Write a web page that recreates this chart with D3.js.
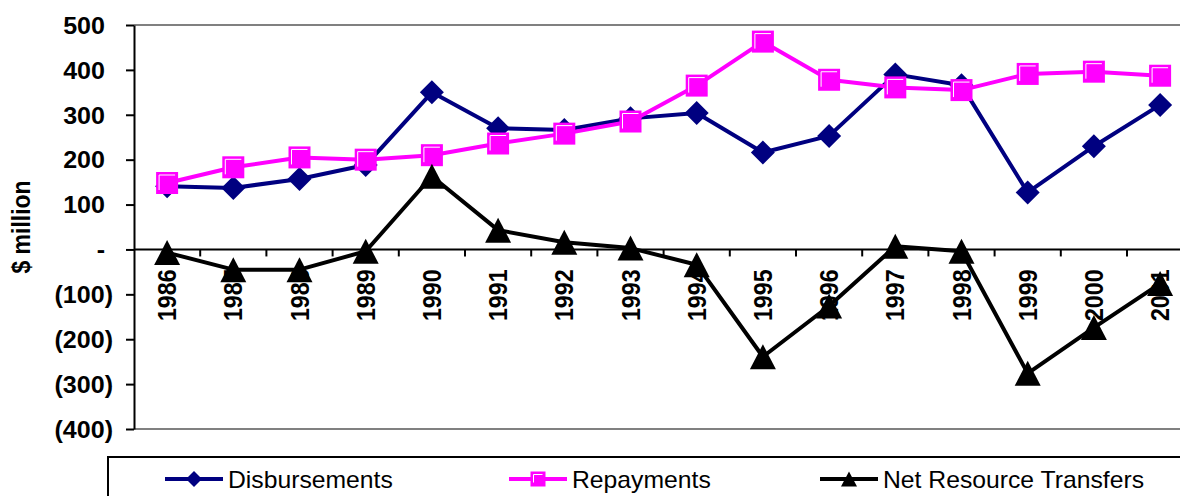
<!DOCTYPE html>
<html>
<head>
<meta charset="utf-8">
<script src="https://cdn.jsdelivr.net/npm/d3@7"></script>
<style>
  html, body { margin: 0; padding: 0; background: #fff; }
  svg { display: block; }
</style>
</head>
<body>
<svg id="chart" width="1180" height="496"></svg>
<script>
const years = ["1986","1987","1988","1989","1990","1991","1992","1993","1994","1995","1996","1997","1998","1999","2000","2001"];
const disbursements = [141,137,157,188,350,270,266,292,304,216,253,390,366,127,230,322];
const repayments    = [148,183,205,200,210,236,258,285,365,463,378,361,355,391,396,387];
const netTransfers  = [-7,-45,-45,-4,163,43,16,3,-34,-239,-126,7,-4,-276,-174,-76];
const yTicks = [500,400,300,200,100,0,-100,-200,-300,-400];
const seriesNames = ["Disbursements","Repayments","Net Resource Transfers"];
const yTitle = "$ million";

(function () {
const FONT = "'Liberation Sans', Arial, sans-serif";
const SX = 1.09;
const FS = 23;

const svg = d3.select("#chart");
const pLeft = 134, pTop = 25, pBottom = 429, step = 66.2;
const x = d3.scaleBand().domain(years).range([pLeft, pLeft + years.length * step]).padding(0);
const y = d3.scaleLinear().domain([-400, 500]).range([pBottom, pTop]);
const pRight = x.range()[1];

const fmt = v => v === 0 ? "-" : (v < 0 ? "(" + d3.format(",")(-v) + ")" : d3.format(",")(v));

// plot border lines (grey top & bottom)
svg.append("line").attr("x1", pLeft).attr("x2", pRight).attr("y1", y(500)).attr("y2", y(500))
  .attr("stroke", "#808080").attr("stroke-width", 2);
svg.append("line").attr("x1", pLeft).attr("x2", pRight).attr("y1", y(-400)).attr("y2", y(-400))
  .attr("stroke", "#808080").attr("stroke-width", 2);

// y axis
const yAxis = svg.append("g").attr("transform", `translate(${pLeft},0)`)
  .call(d3.axisLeft(y).tickValues(yTicks).tickFormat(fmt).tickSize(8).tickSizeOuter(0));
yAxis.select(".domain").attr("stroke", "#000").attr("stroke-width", 2);
yAxis.selectAll(".tick line").attr("stroke", "#000").attr("stroke-width", 2);
yAxis.selectAll(".tick text")
  .attr("x", 0).attr("dy", "0.36em")
  .attr("transform", d => `translate(${d < 0 ? -21 : -29},0) scale(${SX},1)`)
  .attr("font-family", FONT).attr("font-weight", "bold").attr("font-size", FS)
  .attr("fill", "#000").attr("text-anchor", "end");

// x axis at zero
const xAxis = svg.append("g").attr("transform", `translate(0,${y(0)})`)
  .call(d3.axisBottom(x).tickSize(0).tickSizeOuter(0));
xAxis.select(".domain").remove();
svg.append("line").attr("x1", pLeft).attr("x2", pRight).attr("y1", y(0)).attr("y2", y(0))
  .attr("stroke", "#000").attr("stroke-width", 2);
xAxis.selectAll(".tick text")
  .attr("x", 0).attr("y", 0).attr("dy", "0.36em")
  .attr("transform", `translate(0,20) scale(${SX},1.01) rotate(-90)`)
  .attr("text-anchor", "end")
  .attr("font-family", FONT).attr("font-weight", "bold").attr("font-size", FS).attr("fill", "#000");
// boundary ticks
svg.append("g").selectAll("line").data(years).join("line")
  .attr("x1", d => x(d) + x.step()).attr("x2", d => x(d) + x.step())
  .attr("y1", y(0)).attr("y2", y(0) + 7)
  .attr("stroke", "#000").attr("stroke-width", 2);

// y title
svg.append("text")
  .attr("transform", `translate(21,227) scale(${SX},1) rotate(-90)`)
  .attr("text-anchor", "middle").attr("dy", "0.36em")
  .attr("font-family", FONT).attr("font-weight", "bold").attr("font-size", FS)
  .text(yTitle);

// marker shapes
function diamondPath(r) { return `M0,${-r}L${r},0L0,${r}L${-r},0Z`; }
function trianglePath(w, h) { return `M0,${-h/2}L${w/2},${h/2}L${-w/2},${h/2}Z`; }

const cx = i => x(years[i]) + x.bandwidth() / 2;
const line = d3.line().x((d, i) => cx(i)).y(d => y(d));

function drawSquare(g, px, py, s) {
  g.append("rect").attr("x", px - s/2).attr("y", py - s/2).attr("width", s).attr("height", s)
    .attr("fill", "#FF00FF");
  g.append("path").attr("d", `M${px - s/2 + 3},${py + s/2 - 4}V${py - s/2 + 3}H${px + s/2 - 3}`)
    .attr("fill", "none").attr("stroke", "#fff").attr("stroke-width", 1);
}

// Disbursements
const gD = svg.append("g");
gD.append("path").datum(disbursements).attr("d", line)
  .attr("fill", "none").attr("stroke", "#000080").attr("stroke-width", 4).attr("stroke-linejoin", "round");
gD.selectAll("path.m").data(disbursements).join("path").attr("class", "m")
  .attr("d", diamondPath(12)).attr("transform", (d, i) => `translate(${cx(i)},${y(d)})`)
  .attr("fill", "#000080");

// Repayments
const gR = svg.append("g");
gR.append("path").datum(repayments).attr("d", line)
  .attr("fill", "none").attr("stroke", "#FF00FF").attr("stroke-width", 4).attr("stroke-linejoin", "round");
repayments.forEach((d, i) => drawSquare(gR, cx(i), y(d), 22));

// Net
const gN = svg.append("g");
gN.append("path").datum(netTransfers).attr("d", line)
  .attr("fill", "none").attr("stroke", "#000").attr("stroke-width", 4).attr("stroke-linejoin", "round");
gN.selectAll("path.m").data(netTransfers).join("path").attr("class", "m")
  .attr("d", trianglePath(26, 25)).attr("transform", (d, i) => `translate(${cx(i)},${y(d)})`)
  .attr("fill", "#000");

// Legend
const lg = svg.append("g");
lg.append("rect").attr("x", 108).attr("y", 457).attr("width", 1100).attr("height", 60)
  .attr("fill", "#fff").attr("stroke", "#000").attr("stroke-width", 2);
const legX = [165, 509, 820];
const legColors = ["#000080", "#FF00FF", "#000"];
const ly = 479;
seriesNames.forEach((name, i) => {
  const x0 = legX[i];
  lg.append("line").attr("x1", x0).attr("x2", x0 + 58).attr("y1", ly).attr("y2", ly)
    .attr("stroke", legColors[i]).attr("stroke-width", 4);
  const mx = x0 + 29;
  if (i === 0) lg.append("path").attr("d", diamondPath(8)).attr("transform", `translate(${mx},${ly})`).attr("fill", legColors[0]);
  if (i === 1) drawSquare(lg, mx, ly, 15);
  if (i === 2) lg.append("path").attr("d", trianglePath(16, 15)).attr("transform", `translate(${mx},${ly})`).attr("fill", "#000");
  lg.append("text").attr("transform", `translate(${x0 + 63},${ly}) scale(1.03,1)`)
    .attr("dy", "0.36em")
    .attr("font-family", FONT).attr("font-size", 24).attr("fill", "#000")
    .text(name);
});
})();
</script>
</body>
</html>
